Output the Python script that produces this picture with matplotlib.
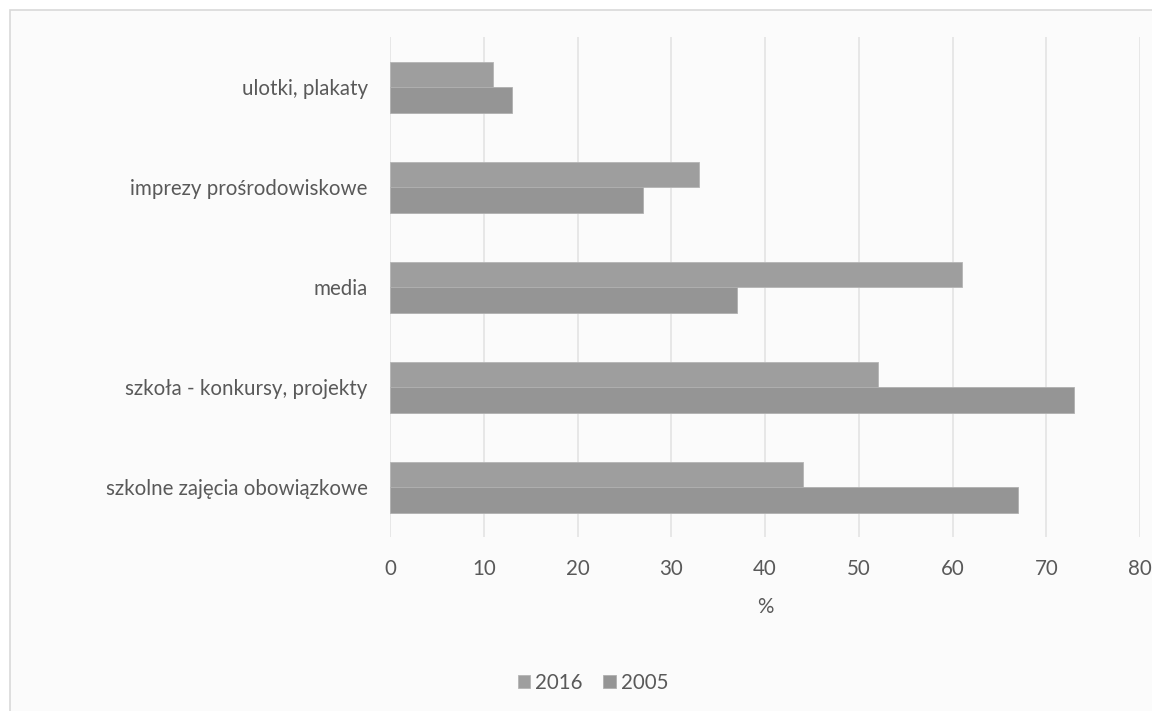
import numpy as np
import matplotlib.pyplot as plt
from matplotlib.patches import Rectangle

# data (top to bottom as in the chart)
categories = ["ulotki, plakaty", "imprezy prośrodowiskowe", "media",
              "szkoła - konkursy, projekty", "szkolne zajęcia obowiązkowe"]
values_2016 = [11, 33, 61, 52, 44]
values_2005 = [13, 27, 37, 73, 67]
series_names = ["2016", "2005"]
x_ticks = [0, 10, 20, 30, 40, 50, 60, 70, 80]

plt.rcParams["font.family"] = ["Lato", "DejaVu Sans"]
text_color = "#595959"

fig = plt.figure(figsize=(11.52, 7.11), dpi=100, facecolor="white")

# outer chart frame
fig.patches.append(Rectangle((10 / 1152, -0.05), 1.2, 1 - 10 / 711 + 0.05,
                             transform=fig.transFigure, facecolor="#fbfbfb",
                             edgecolor="#d9d9d9", linewidth=1.2, zorder=-1))

ax = fig.add_axes([390 / 1152, 1 - 537 / 711, 750 / 1152, 500 / 711])
ax.set_facecolor("none")

n = len(categories)
y = np.arange(n)[::-1]
h = 0.255
ax.barh(y + h / 2, values_2016, height=h, color="#9e9e9e",
        edgecolor="#b5b5b5", linewidth=0.6, label=series_names[0], zorder=3)
ax.barh(y - h / 2, values_2005, height=h, color="#959595",
        edgecolor="#b0b0b0", linewidth=0.6, label=series_names[1], zorder=3)

ax.set_xlim(0, 80)
ax.set_ylim(-0.5, n - 0.5)
ax.set_xticks(x_ticks)
ax.set_yticks(y)
ax.set_yticklabels(categories)
ax.grid(axis="x", color="#e3e3e3", linewidth=1.2, zorder=0)
ax.set_axisbelow(True)
for s in ax.spines.values():
    s.set_visible(False)
ax.tick_params(axis="both", length=0, labelsize=14.8, colors=text_color)
ax.tick_params(axis="y", pad=16)
ax.tick_params(axis="x", pad=16)
ax.set_xlabel("%", fontsize=14.8, color=text_color, labelpad=13)

fig.legend(loc="center", bbox_to_anchor=(593 / 1152, 1 - 683 / 711),
           ncol=2, frameon=False, fontsize=14.8, labelcolor=text_color,
           handlelength=0.6, handleheight=0.6, handletextpad=0.25,
           columnspacing=1.0)

fig.savefig("out.png", dpi=100, facecolor="white")
